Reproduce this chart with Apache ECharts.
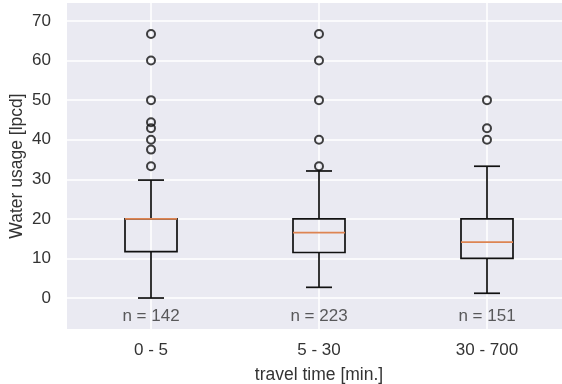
<!DOCTYPE html>
<html>
<head>
<meta charset="utf-8">
<script src="https://cdn.jsdelivr.net/npm/echarts@6/dist/echarts.min.js"></script>
<style>
  html, body { margin: 0; padding: 0; background: #fff; }
  #chart { width: 562px; height: 384px; }
</style>
</head>
<body>
<div id="chart"></div>
<script>
// travel time groups
const categories = ['0 - 5', '5 - 30', '30 - 700']
const counts = [142, 223, 151]
// box stats per group: lower whisker, q1, median, q3, upper whisker
const whiskerLow = [0, 2.7, 1.2]
const q1 = [11.7, 11.5, 10]
const median = [20, 16.5, 14.1]
const q3 = [20, 20, 20]
const whiskerHigh = [29.8, 32.1, 33.3]
// fliers per group
const outliers = [
  [66.7, 60, 50, 44.4, 42.9, 40, 37.5, 33.3],
  [66.7, 60, 50, 40, 33.3],
  [50, 42.9, 40],
]
const yTicks = [0, 10, 20, 30, 40, 50, 60, 70]

const textColor = '#333'
const font = 'Liberation Sans'

const boxData = categories.map((c, i) => [i + 1, whiskerLow[i], q1[i], median[i], q3[i], whiskerHigh[i]])
const flierData = []
outliers.forEach((arr, i) => arr.forEach(v => flierData.push([i + 1, v])))
const labelData = counts.map((n, i) => [i + 1, -4.7, n])

const chart = echarts.init(document.getElementById('chart'))
chart.setOption({
  animation: false,
  grid: {
    left: 67,
    top: 3,
    width: 504,
    height: 326,
    show: true,
    backgroundColor: '#EAEAF2',
    borderWidth: 0,
    outerBoundsMode: 'none',
    containLabel: false,
  },
  xAxis: {
    type: 'value',
    min: 0.5,
    max: 3.5,
    name: 'travel time [min.]',
    nameLocation: 'middle',
    nameGap: 37,
    nameTextStyle: { color: textColor, fontFamily: font, fontSize: 17.5 },
    axisLine: { show: false },
    axisTick: { show: false, customValues: [1, 2, 3] },
    axisLabel: {
      customValues: [1, 2, 3],
      formatter: v => categories[v - 1],
      color: textColor,
      fontFamily: font,
      fontSize: 17,
      margin: 13,
    },
    splitLine: { show: true, lineStyle: { color: '#fff', width: 1.5 } },
  },
  yAxis: {
    type: 'value',
    min: -7.83,
    max: 74.55,
    name: 'Water usage [lpcd]',
    nameLocation: 'middle',
    nameGap: 41,
    nameMoveOverlap: false,
    nameTextStyle: { color: textColor, fontFamily: font, fontSize: 17.5 },
    axisLine: { show: false },
    axisTick: { show: false, customValues: yTicks },
    axisLabel: {
      customValues: yTicks,
      color: textColor,
      fontFamily: font,
      fontSize: 17,
      margin: 16,
    },
    splitLine: { show: true, lineStyle: { color: '#fff', width: 1.5 } },
  },
  series: [
    {
      type: 'custom',
      data: boxData,
      renderItem(params, api) {
        const x = api.value(0)
        const lo = api.coord([x, api.value(1)])
        const b1 = api.coord([x, api.value(2)])
        const md = api.coord([x, api.value(3)])
        const b3 = api.coord([x, api.value(4)])
        const hi = api.coord([x, api.value(5)])
        const half = 26
        const cap = 13
        const cx = lo[0]
        const st = { stroke: '#111', lineWidth: 1.7, fill: null }
        return {
          type: 'group',
          children: [
            { type: 'line', shape: { x1: cx, y1: lo[1], x2: cx, y2: b1[1] }, style: st },
            { type: 'line', shape: { x1: cx, y1: b3[1], x2: cx, y2: hi[1] }, style: st },
            { type: 'line', shape: { x1: cx - cap, y1: lo[1], x2: cx + cap, y2: lo[1] }, style: st },
            { type: 'line', shape: { x1: cx - cap, y1: hi[1], x2: cx + cap, y2: hi[1] }, style: st },
            { type: 'rect', shape: { x: cx - half, y: b3[1], width: half * 2, height: b1[1] - b3[1] }, style: st },
            { type: 'line', shape: { x1: cx - half, y1: md[1], x2: cx + half, y2: md[1] }, style: { stroke: '#DD8452', lineWidth: 1.7 } },
          ],
        }
      },
    },
    {
      type: 'scatter',
      data: flierData,
      symbol: 'circle',
      symbolSize: 8,
      itemStyle: { color: 'rgba(0,0,0,0)', borderColor: '#111', borderWidth: 2 },
    },
    {
      type: 'scatter',
      data: labelData,
      symbolSize: 0,
      label: {
        show: true,
        position: 'inside',
        formatter: p => 'n = ' + p.value[2],
        color: textColor,
        fontFamily: font,
        fontSize: 17,
      },
    },
  ],
})
</script>
</body>
</html>
